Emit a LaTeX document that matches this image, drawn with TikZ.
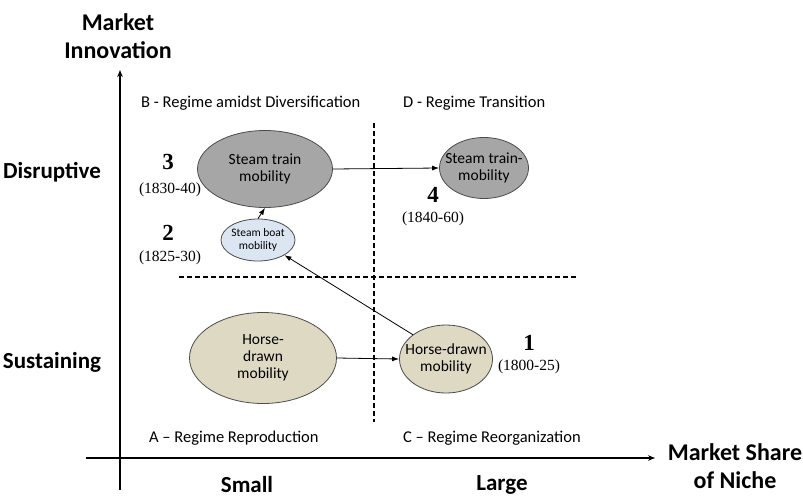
\documentclass[tikz,border=0pt]{standalone}
\usepackage{fontspec}
\setmainfont{Carlito}
\newfontfamily\numfont{Liberation Serif}
\usetikzlibrary{arrows.meta,shapes.geometric}
\definecolor{traingray}{HTML}{A6A6A6}
\definecolor{boatblue}{HTML}{DCE6F2}
\definecolor{horsetan}{HTML}{DDD9C3}
\begin{document}
\begin{tikzpicture}[x=1pt,y=-1pt,
  axislabel/.style={font=\fontsize{24}{28}\selectfont\bfseries, align=center, inner sep=0pt},
  scaleword/.style={font=\fontsize{23}{26}\selectfont\bfseries, inner sep=0pt},
  quadlabel/.style={font=\fontsize{16.5}{19}\selectfont, anchor=west, inner sep=0pt},
  stage/.style={ellipse, draw=black!70, line width=0.8pt, inner sep=-16pt, align=center,
    font=\fontsize{15.5}{17}\selectfont},
  stagenum/.style={font=\numfont\fontsize{23}{24}\selectfont\bfseries, inner sep=0pt},
  period/.style={font=\numfont\fontsize{15.5}{17}\selectfont, inner sep=0pt},
  axis/.style={line width=1.2pt, -{Stealth[length=7pt,width=5.5pt]}},
  divider/.style={line width=1.1pt, dash pattern=on 5pt off 3pt},
  flow/.style={line width=0.8pt, -{Latex[length=7pt,width=5pt]}}]
\useasboundingbox (0,0) rectangle (803,498);
\fill[white] (0,0) rectangle (803,498);

% axes
\coordinate (yfoot) at (120,490);
\coordinate (ytip) at (120,70);
\coordinate (xfoot) at (86,458);
\coordinate (xtip) at (655,458);
\draw[axis] (yfoot) -- (ytip);
\draw[axis] (xfoot) -- (xtip);

% axis titles and scale words
\node[axislabel] (ytitle) at (118,36) {Market\\Innovation};
\node[axislabel] (xtitle) at (735,466) {Market Share\\of Niche};
\node[scaleword] (disr) at (52,172) {Disruptive};
\node[scaleword] (sust) at (52,362) {Sustaining};
\node[scaleword] (small) at (247,485) {Small};
\node[scaleword] (large) at (502,485) {Large};

% quadrant dividers
\coordinate (vtop) at (374,123);
\coordinate (vbot) at (374,422);
\coordinate (hleft) at (179,277);
\coordinate (hright) at (577,277);
\draw[divider] (vtop) -- (vbot);
\draw[divider] (hleft) -- (hright);

% quadrant names
\node[quadlabel] (qb) at (141,103) {B - Regime amidst Diversification};
\node[quadlabel] (qd) at (403,103) {D - Regime Transition};
\node[quadlabel] (qa) at (149,438) {A -- Regime Reproduction};
\node[quadlabel] (qc) at (403,438) {C -- Regime Reorganization};

% stages of mobility
\node[stage, fill=traingray, minimum width=135pt, minimum height=77pt] (train) at (265,169) {Steam train\\mobility};
\node[stage, fill=boatblue, minimum width=74pt, minimum height=42pt, inner sep=-12pt,
  font=\fontsize{11.5}{13}\selectfont] (boat) at (258,240) {Steam boat\\mobility};
\node[stage, fill=traingray, minimum width=89pt, minimum height=61pt] (trainb) at (484,168) {Steam train-\\mobility};
\node[stage, fill=horsetan, minimum width=147pt, minimum height=91pt] (horse) at (263,358) {Horse-\\drawn\\mobility};
\node[stage, fill=horsetan, minimum width=93pt, minimum height=68pt] (horseb) at (446,359) {Horse-drawn\\mobility};

% stage numbers and periods
\node[stagenum] (n3) at (168,162) {3};
\node[period] (p3) at (170,190) {(1830-40)};
\node[stagenum] (n2) at (168,233) {2};
\node[period] (p2) at (170,258) {(1825-30)};
\node[stagenum] (n4) at (433,195) {4};
\node[period] (p4) at (433,219) {(1840-60)};
\node[stagenum] (n1) at (529,343) {1};
\node[period] (p1) at (529,367) {(1800-25)};

% transitions
\draw[flow] (horse.east) -- (horseb.west);
\draw[flow] (horseb.north west) -- (boat.south east);
\draw[flow] (boat.north) -- (train.south);
\draw[flow] (train.east) -- (trainb.west);
\end{tikzpicture}
\end{document}
